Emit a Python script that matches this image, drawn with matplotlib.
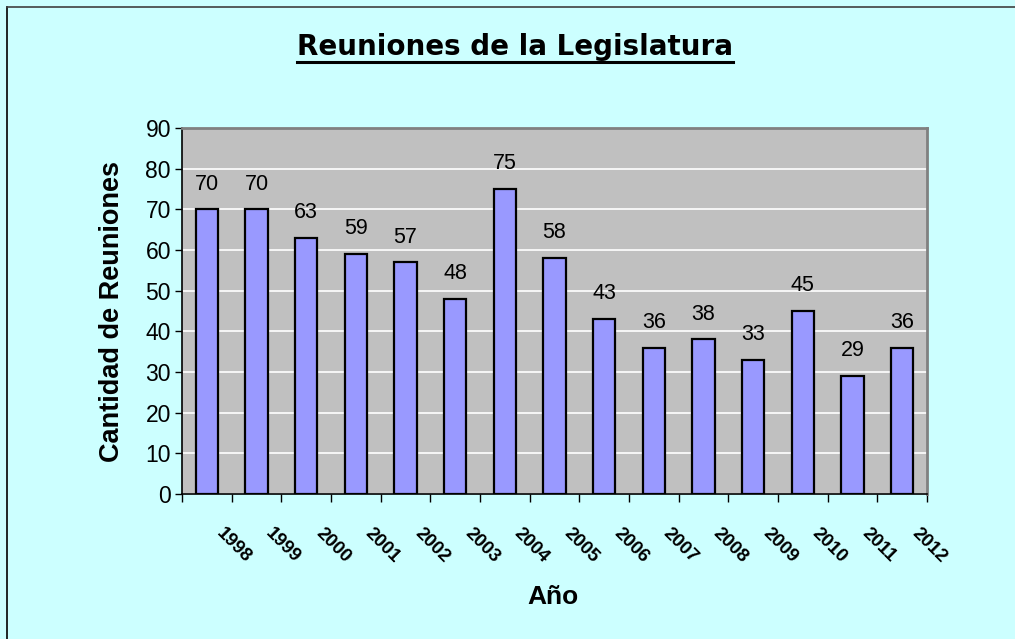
# -*- coding: utf-8 -*-
# Reuniones de la Legislatura - bar chart

import numpy as np
import matplotlib.pyplot as plt
import matplotlib.transforms as mtransforms
from matplotlib.lines import Line2D

years = ['1998', '1999', '2000', '2001', '2002', '2003', '2004', '2005',
         '2006', '2007', '2008', '2009', '2010', '2011', '2012']
reuniones = [70, 70, 63, 59, 57, 48, 75, 58, 43, 36, 38, 33, 45, 29, 36]
yticks = [0, 10, 20, 30, 40, 50, 60, 70, 80, 90]

plt.rcParams['font.family'] = ['Liberation Sans', 'DejaVu Sans']

fig = plt.figure(figsize=(10.15, 6.39), dpi=100)
fig.patch.set_facecolor('#CCFFFF')

# outer chart border (only left and top visible)
fig.add_artist(Line2D([7/1015, 7/1015], [0, 1 - 7/639], color='black', lw=1.2))
fig.add_artist(Line2D([7/1015, 1], [1 - 7/639, 1 - 7/639], color='#404040', lw=1.2))

ax = fig.add_axes([182/1015, 145/639, 745/1015, 366/639])
ax.set_facecolor('#C0C0C0')

x = np.arange(len(years))
ax.bar(x, reuniones, width=0.45, color='#9999FF', edgecolor='black', linewidth=1.6, zorder=3)

for xi, v in zip(x, reuniones):
    ax.text(xi, v + 3.6, str(v), ha='center', va='bottom', fontsize=15.5, zorder=4)

ax.set_xlim(-0.5, len(years) - 0.5)
ax.set_ylim(0, 90)
ax.set_yticks(yticks)
ax.set_yticklabels([str(t) for t in yticks], fontsize=16.5)
ax.yaxis.grid(True, color='white', lw=1.2, zorder=1)
ax.tick_params(axis='y', direction='out', length=5, width=1, pad=3)

# categories centred, tick marks between them
ax.set_xticks(x)
ax.set_xticklabels(years, rotation=-45, ha='left', rotation_mode='anchor',
                   fontsize=13.5, fontweight='bold')
ax.tick_params(axis='x', which='major', length=0, pad=32)
offset = mtransforms.ScaledTranslation(0.12, 0.08, fig.dpi_scale_trans)
for lbl in ax.get_xticklabels():
    lbl.set_va('center')
    lbl.set_transform(lbl.get_transform() + offset)
ax.set_xticks(np.arange(-0.5, len(years)), minor=True)
ax.tick_params(axis='x', which='minor', direction='out', length=6, width=1)

ax.spines['left'].set_color('black')
ax.spines['bottom'].set_color('black')
ax.spines['left'].set_linewidth(1.2)
ax.spines['bottom'].set_linewidth(1.2)
ax.spines['top'].set_color('#808080')
ax.spines['right'].set_color('#808080')
ax.spines['top'].set_linewidth(2)
ax.spines['right'].set_linewidth(2)

ax.set_ylabel('Cantidad de Reuniones', fontsize=19.5, fontweight='bold', labelpad=15)
fig.text(553/1015, 1 - 597/639, 'Año', ha='center', va='center',
         fontsize=19, fontweight='bold')

t = fig.text(515/1015, 1 - 47/639, 'Reuniones de la Legislatura', ha='center',
             va='center', fontsize=20, fontweight='bold', family='DejaVu Sans')
fig.canvas.draw()
bb = t.get_window_extent()
# underline the title
fig.add_artist(Line2D([bb.x0 / 1015, bb.x1 / 1015],
                      [(bb.y0 - 1) / 639, (bb.y0 - 1) / 639],
                      color='black', lw=2.2))

fig.savefig('out.png', dpi=100, facecolor=fig.get_facecolor())
